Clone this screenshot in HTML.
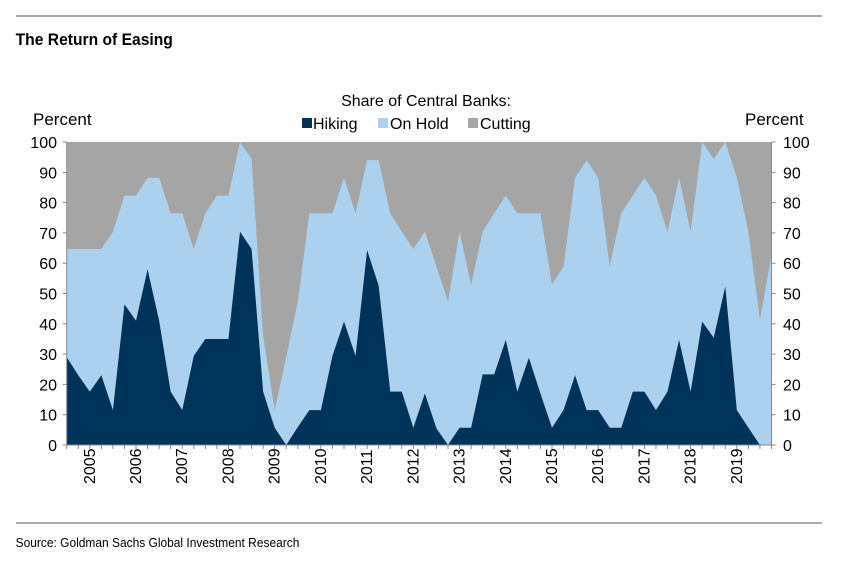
<!DOCTYPE html>
<html><head><meta charset="utf-8"><style>
body{margin:0;background:#fff;font-family:"Liberation Sans",sans-serif;}
svg text{font-family:"Liberation Sans",sans-serif;}
</style></head><body>
<svg id="c" width="849" height="563">
<line x1="16" y1="16" x2="822" y2="16" stroke="#555" stroke-width="1"/>
<text x="17" y="45" font-size="17" font-weight="bold" transform="scale(0.92,1)">The Return of Easing</text>
<text x="426" y="106" font-size="16" text-anchor="middle">Share of Central Banks:</text>
<g>
<rect x="302" y="118" width="10" height="10" fill="#003359"/>
<text x="313" y="129" font-size="16">Hiking</text>
<rect x="378" y="118" width="10" height="10" fill="#abd1ee"/>
<text x="390" y="129" font-size="16">On Hold</text>
<rect x="468" y="118" width="10" height="10" fill="#a5a5a5"/>
<text x="480" y="129" font-size="16">Cutting</text>
</g>
<text x="33" y="125" font-size="17">Percent</text>
<text x="745" y="125" font-size="17">Percent</text>
<g id="plot"></g>
<line x1="16" y1="523" x2="822" y2="523" stroke="#555" stroke-width="1"/>
<text x="17" y="547" font-size="13" transform="scale(0.92,1)">Source: Goldman Sachs Global Investment Research</text>
</svg>
<script>
const hiking=[29,23,17.6,23,11.5,46.4,41,58,41,17.6,11.5,29.4,35,35,35,70.4,64.7,17.6,5.7,0,5.9,11.5,11.5,29.4,40.7,29.4,64.3,52.6,17.6,17.6,5.7,17,5.5,0,5.7,5.7,23.3,23.3,34.7,17.6,28.8,17,5.7,11.5,23,11.5,11.5,5.7,5.7,17.6,17.6,11.5,17.6,34.7,17.6,40.7,35.4,52.3,11.5,5.7,0,0];
const hikingPlusHold=[64.7,64.7,64.7,64.7,70.4,82.3,82.3,88.2,88.2,76.5,76.5,64.7,76.5,82.3,82.3,100,94.4,36,11.5,29,47.3,76.5,76.5,76.5,88.2,76.5,94,94,76.5,70.4,64.7,70.4,58.9,47.3,70.4,52.8,70.4,76.5,82.3,76.5,76.5,76.5,53,58.9,88.2,94,88.2,58.9,76.5,82.3,88.2,82.3,70.4,88.2,70.4,100,94.4,100,88.2,70.4,41.2,62.7];
const onHold=hikingPlusHold.map((v,i)=>v-hiking[i]);
const yTicks=[0,10,20,30,40,50,60,70,80,90,100];
const years=[2005,2006,2007,2008,2009,2010,2011,2012,2013,2014,2015,2016,2017,2018,2019];
const X0=66.7,X1=771.5,Y0=445,Y1=142,N=hiking.length;
const x=i=>X0+i*(X1-X0)/(N-1);
const y=v=>Y0-(v/100)*(Y0-Y1);
const NS="http://www.w3.org/2000/svg";
const g=document.getElementById('plot');
function mk(t,a){const e=document.createElementNS(NS,t);for(const k in a)e.setAttribute(k,a[k]);g.appendChild(e);return e;}
let bg=mk('rect',{x:X0,y:Y1,width:X1-X0,height:Y0-Y1,fill:'#a5a5a5'});


let upperPts=hiking.map((h,i)=>x(i)+','+y(h+onHold[i])).join(' ');
let holdPoly=mk('polygon',{points:upperPts+' '+X1+','+Y0+' '+X0+','+Y0,fill:'#abd1ee'});


let hp=hiking.map((h,i)=>x(i)+','+y(h)).join(' ');
let hikePoly=mk('polygon',{points:hp+' '+X1+','+Y0+' '+X0+','+Y0,fill:'#003359'});


let la=mk('line',{x1:X0,y1:Y1,x2:X0,y2:Y0,stroke:'#888'});


let ra=mk('line',{x1:X1,y1:Y1,x2:X1,y2:Y0,stroke:'#888'});


let xa=mk('line',{x1:X0,y1:Y0,x2:X1,y2:Y0,stroke:'#888'});


yTicks.forEach(v=>{
 mk('line',{x1:X0-4,y1:y(v),x2:X0,y2:y(v),stroke:'#888'});
 mk('line',{x1:X1,y1:y(v),x2:X1+4,y2:y(v),stroke:'#888'});
 let t=mk('text',{x:57,y:y(v)+6,'font-size':16,'text-anchor':'end'});t.textContent=v;
 
 
 let t2=mk('text',{x:783,y:y(v)+6,'font-size':16});t2.textContent=v;
 
 
});
for(let i=0;i<N;i++)mk('line',{x1:x(i),y1:Y0,x2:x(i),y2:Y0+4,stroke:'#888'});
years.forEach((yr,k)=>{
 const cx=x(4*k+2)+5;
 let t=mk('text',{x:cx,y:484,'font-size':16,transform:'rotate(-90 '+cx+' 484)'});
 t.textContent=yr;
 
 
});
</script>
</body></html>
